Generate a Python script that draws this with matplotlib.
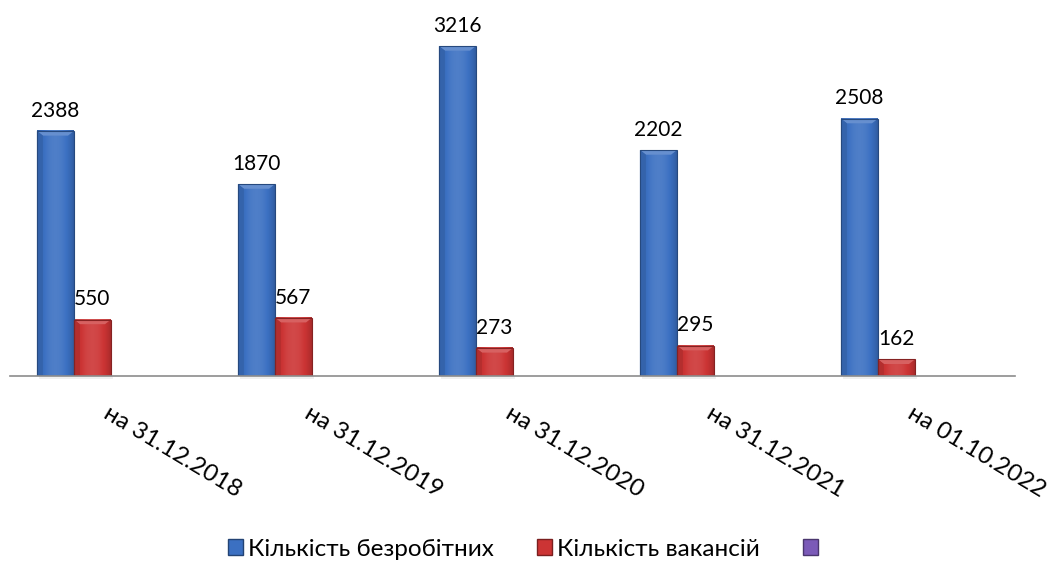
import numpy as np
import matplotlib.pyplot as plt
from matplotlib.patches import Patch, Polygon
from matplotlib.colors import to_rgb

plt.rcParams['font.family'] = ['Lato', 'Open Sans', 'DejaVu Sans']

categories = ['на 31.12.2018', 'на 31.12.2019', 'на 31.12.2020',
              'на 31.12.2021', 'на 01.10.2022']
unemployed = [2388, 1870, 3216, 2202, 2508]
vacancies = [550, 567, 273, 295, 162]
series_names = ['Кількість безробітних', 'Кількість вакансій', '']

blue = '#3b70c2'
red = '#cc3434'
purple = '#7b5ab8'

fig = plt.figure(figsize=(10.51, 5.72), dpi=100)
ymax = 3600
ax_h = ymax * 0.1026 / 572
ax = fig.add_axes([10 / 1051, (572 - 376) / 572, 1005 / 1051, ax_h])
ax.set_xlim(0, len(categories))
ax.set_ylim(0, ymax)

bw = 0.184
off_blue = 0.134


def shade(c, f):
    r = np.array(to_rgb(c))
    if f >= 1:
        return tuple(r + (1 - r) * (f - 1))
    return tuple(r * f)


def bar3d(x0, h, color):
    x1 = x0 + bw
    # soft shadow under the bar
    ax.fill_between([x0 + 0.01, x1 + 0.01], -25, 0, color='#000000', alpha=0.06,
                    lw=0, clip_on=False, zorder=1)
    # horizontal gradient
    t = np.linspace(0, 1, 64)
    prof = 0.82 + 0.28 * np.sin(np.pi * t) ** 0.8
    img = np.array([shade(color, p) for p in prof])[None, :, :]
    ax.imshow(img, extent=(x0, x1, 0, h), aspect='auto', zorder=2,
              interpolation='bicubic')
    # bevel on top
    bev = min(45, h * 0.3)
    dx = bw * 0.16
    ax.add_patch(Polygon([[x0, h], [x1, h], [x1 - dx, h - bev], [x0 + dx, h - bev]],
                         closed=True, fc=shade(color, 1.22), ec='none', zorder=3))
    ax.add_patch(Polygon([[x0, h], [x0 + dx, h - bev], [x0 + dx, 0], [x0, 0]],
                         closed=True, fc=shade(color, 0.88), ec='none', zorder=3))
    ax.add_patch(plt.Rectangle((x0, 0), bw, h, fill=False, ec=shade(color, 0.65),
                               lw=0.8, zorder=4))


for i in range(len(categories)):
    xb = i + off_blue
    xr = xb + bw
    bar3d(xb, unemployed[i], blue)
    bar3d(xr, vacancies[i], red)
    ax.text(xb + bw / 2, unemployed[i] + 100, str(unemployed[i]), ha='center',
            va='bottom', fontsize=15)
    ax.text(xr + bw / 2, vacancies[i] + 100, str(vacancies[i]), ha='center',
            va='bottom', fontsize=15)

ax.set_xticks([i + 0.5 for i in range(len(categories))])
ax.set_xticklabels(categories, rotation=-31, ha='left', va='top',
                   rotation_mode='anchor', fontsize=17.5)
ax.tick_params(axis='x', length=0, pad=19)
ax.set_yticks([])
for s in ['top', 'right', 'left']:
    ax.spines[s].set_visible(False)
ax.spines['bottom'].set_color('#8c8c8c')
ax.spines['bottom'].set_linewidth(1.2)
ax.spines['bottom'].set_zorder(5)

handles = [Patch(fc=blue, ec=shade(blue, 0.6)),
           Patch(fc=red, ec=shade(red, 0.6)),
           Patch(fc=purple, ec=shade(purple, 0.6))]
fig.legend(handles, series_names, loc='center', bbox_to_anchor=(0.5, 1 - 549 / 572),
           ncol=3, frameon=False, fontsize=17.5, handlelength=0.6, handleheight=0.6,
           handletextpad=0.2, columnspacing=1.8)

fig.savefig('out.png', dpi=100)
